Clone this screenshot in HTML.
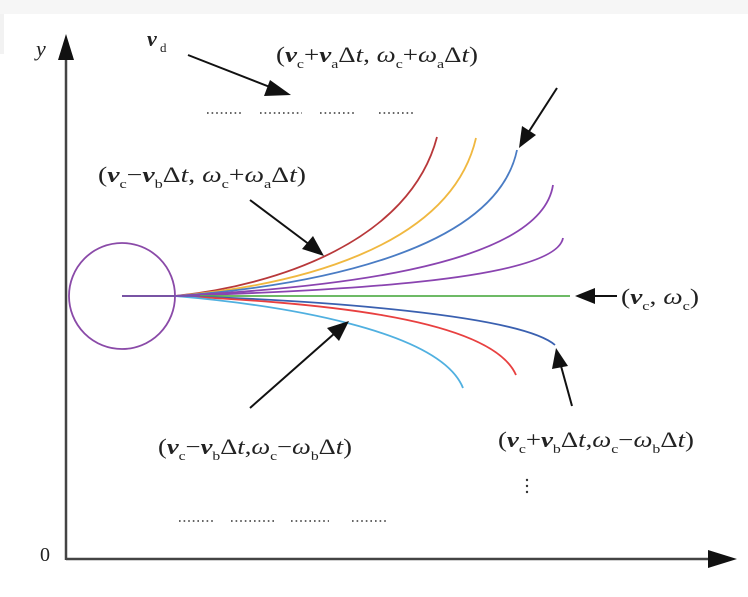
<!DOCTYPE html>
<html><head><meta charset="utf-8"><style>
html,body{margin:0;padding:0;background:#fff;width:748px;height:597px;overflow:hidden}
svg text{font-family:"Liberation Serif",serif;fill:#222}
.s{font-size:13px}
</style></head><body>
<svg width="748" height="597" viewBox="0 0 748 597" xmlns="http://www.w3.org/2000/svg">
<rect x="0" y="0" width="748" height="14" fill="#f6f6f6"/>
<rect x="0" y="14" width="4" height="40" fill="#f2f2f2"/>
<!-- axes -->
<line x1="66" y1="560" x2="66" y2="55" stroke="#444" stroke-width="2.5"/>
<polygon points="66,34 58,60 74,60" fill="#111"/>
<line x1="66" y1="559" x2="712" y2="559" stroke="#444" stroke-width="2.5"/>
<polygon points="737,559 708,550 708,568" fill="#111"/>
<text x="36" y="56" font-size="22" font-style="italic">y</text>
<text x="40" y="561" font-size="20">0</text>
<!-- circle -->
<circle cx="122" cy="296" r="53" fill="none" stroke="#8a4aa8" stroke-width="1.8"/>
<!-- curves -->
<g fill="none" stroke-width="1.8">
<path d="M122,296 L175,296 C280,285 410,240 437,137" stroke="#b8383a"/>
<path d="M175,296 C290,286 450,250 476,138" stroke="#f0b840"/>
<path d="M175,296 C300,287 495,255 517,150" stroke="#4a7cc4"/>
<path d="M175,296 C310,289 540,270 553,185" stroke="#8a44b0"/>
<path d="M175,296 C320,291 555,282 563,238" stroke="#8a44b0"/>
<path d="M122,296 L570,296" stroke="#58b050"/>
<path d="M175,296 C320,300 520,315 555,345" stroke="#3a60b0"/>
<path d="M175,296 C300,302 490,315 516,375" stroke="#e84040"/>
<path d="M175,296 C280,305 440,330 463,388" stroke="#50b0e0"/>
<path d="M122,296 L200,296" stroke="#7a4ab0"/>
</g>
<!-- arrows -->
<g stroke="#111" stroke-width="2">
<line x1="188" y1="55" x2="275" y2="89"/>
<line x1="557" y1="88" x2="528" y2="133"/>
<line x1="250" y1="200" x2="310" y2="245"/>
<line x1="617" y1="296" x2="590" y2="296"/>
<line x1="250" y1="408" x2="335" y2="333"/>
<line x1="572" y1="406" x2="561" y2="366"/>
</g>
<g fill="#111">
<polygon points="291,95 270,80 264,96"/>
<polygon points="519,148 522,126 536,135"/>
<polygon points="324,256 302,249 313,236"/>
<polygon points="575,296 595,288 595,304"/>
<polygon points="349,321 327,328 339,341"/>
<polygon points="556,348 552,369 568,366"/>
</g>
<!-- dotted rows -->
<g stroke="#333" stroke-width="1.6" stroke-dasharray="1.6 3">
<line x1="207" y1="113" x2="243" y2="113"/>
<line x1="260" y1="113" x2="302" y2="113"/>
<line x1="320" y1="113" x2="356" y2="113"/>
<line x1="379" y1="113" x2="415" y2="113"/>
<line x1="179" y1="521" x2="215" y2="521"/>
<line x1="231" y1="521" x2="276" y2="521"/>
<line x1="291" y1="521" x2="329" y2="521"/>
<line x1="352" y1="521" x2="388" y2="521"/>
</g>
<!-- labels -->
<text x="147" y="46" font-size="22" font-weight="bold" font-style="italic">v</text>
<text x="160" y="52" class="s">d</text>
<text x="276" y="62" font-size="22" textLength="202" lengthAdjust="spacingAndGlyphs">(<tspan font-weight="bold" font-style="italic">v</tspan><tspan class="s" dy="6">c</tspan><tspan dy="-6">+</tspan><tspan font-weight="bold" font-style="italic">v</tspan><tspan class="s" dy="6">a</tspan><tspan dy="-6">Δ</tspan><tspan font-style="italic">t</tspan>, <tspan font-style="italic">ω</tspan><tspan class="s" dy="6">c</tspan><tspan dy="-6">+</tspan><tspan font-style="italic">ω</tspan><tspan class="s" dy="6">a</tspan><tspan dy="-6">Δ</tspan><tspan font-style="italic">t</tspan>)</text>
<text x="98" y="182" font-size="22" textLength="208" lengthAdjust="spacingAndGlyphs">(<tspan font-weight="bold" font-style="italic">v</tspan><tspan class="s" dy="6">c</tspan><tspan dy="-6">−</tspan><tspan font-weight="bold" font-style="italic">v</tspan><tspan class="s" dy="6">b</tspan><tspan dy="-6">Δ</tspan><tspan font-style="italic">t</tspan>, <tspan font-style="italic">ω</tspan><tspan class="s" dy="6">c</tspan><tspan dy="-6">+</tspan><tspan font-style="italic">ω</tspan><tspan class="s" dy="6">a</tspan><tspan dy="-6">Δ</tspan><tspan font-style="italic">t</tspan>)</text>
<text x="621" y="304" font-size="22" textLength="78" lengthAdjust="spacingAndGlyphs">(<tspan font-weight="bold" font-style="italic">v</tspan><tspan class="s" dy="6">c</tspan><tspan dy="-6">, </tspan><tspan font-style="italic">ω</tspan><tspan class="s" dy="6">c</tspan><tspan dy="-6">)</tspan></text>
<text x="158" y="454" font-size="22" textLength="194" lengthAdjust="spacingAndGlyphs">(<tspan font-weight="bold" font-style="italic">v</tspan><tspan class="s" dy="6">c</tspan><tspan dy="-6">−</tspan><tspan font-weight="bold" font-style="italic">v</tspan><tspan class="s" dy="6">b</tspan><tspan dy="-6">Δ</tspan><tspan font-style="italic">t</tspan>,<tspan font-style="italic">ω</tspan><tspan class="s" dy="6">c</tspan><tspan dy="-6">−</tspan><tspan font-style="italic">ω</tspan><tspan class="s" dy="6">b</tspan><tspan dy="-6">Δ</tspan><tspan font-style="italic">t</tspan>)</text>
<text x="498" y="447" font-size="22" textLength="196" lengthAdjust="spacingAndGlyphs">(<tspan font-weight="bold" font-style="italic">v</tspan><tspan class="s" dy="6">c</tspan><tspan dy="-6">+</tspan><tspan font-weight="bold" font-style="italic">v</tspan><tspan class="s" dy="6">b</tspan><tspan dy="-6">Δ</tspan><tspan font-style="italic">t</tspan>,<tspan font-style="italic">ω</tspan><tspan class="s" dy="6">c</tspan><tspan dy="-6">−</tspan><tspan font-style="italic">ω</tspan><tspan class="s" dy="6">b</tspan><tspan dy="-6">Δ</tspan><tspan font-style="italic">t</tspan>)</text>
<g fill="#333"><circle cx="527" cy="480" r="1.2"/><circle cx="527" cy="486" r="1.2"/><circle cx="527" cy="492" r="1.2"/></g>
</svg>
</body></html>
